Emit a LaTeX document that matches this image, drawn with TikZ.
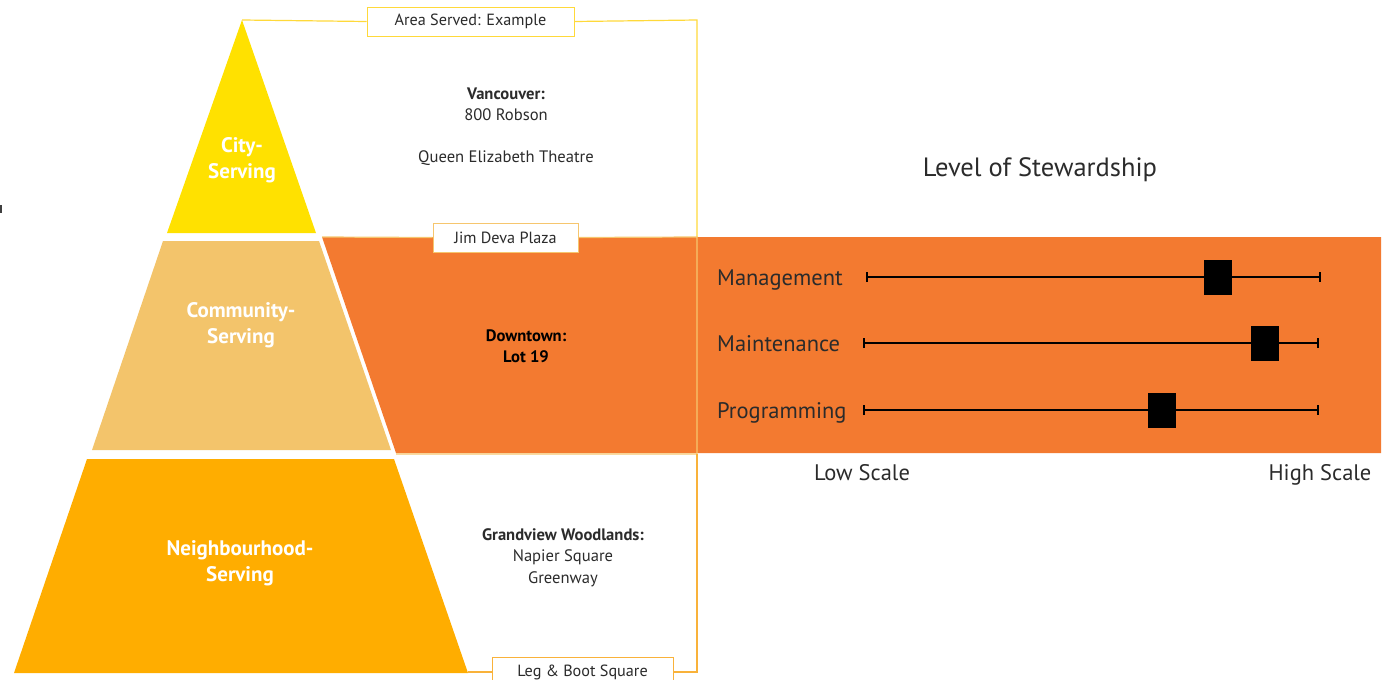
\documentclass[tikz,border=0pt]{standalone}
\usepackage{fontspec}
\setmainfont{PT Sans}
\usetikzlibrary{positioning,arrows.meta}

\definecolor{cityyel}{HTML}{FFE100}
\definecolor{commyel}{HTML}{F3C46B}
\definecolor{neighor}{HTML}{FFAD00}
\definecolor{bandor}{HTML}{F37A30}
\definecolor{cityline}{HTML}{FFD93A}
\definecolor{commline}{HTML}{F6C66E}
\definecolor{neighline}{HTML}{F9B23A}
\definecolor{txtgray}{HTML}{2B2B2B}

\begin{document}
\begin{tikzpicture}[x=1pt,y=-1pt,
    tier/.style={font=\fontsize{21}{26}\selectfont\bfseries,text=white,align=center},
    place/.style={font=\fontsize{16.6}{21.5}\selectfont,text=txtgray,align=center},
    tag/.style={draw=#1,fill=white,line width=1pt,font=\fontsize{16.2}{18}\selectfont,
      text=txtgray,minimum height=29pt,inner sep=0pt},
    rowlabel/.style={font=\fontsize{22.5}{26}\selectfont,text=txtgray},
    bar/.style={line width=1.6pt,{Bar[width=10pt]}-{Bar[width=10pt]}},
    marker/.style={fill=black,minimum width=28pt,minimum height=35pt,inner sep=0pt}]
    \useasboundingbox (0,0) rectangle (1390,680);

    % pyramid tiers and the orange band
    \fill[bandor] (322,237) -- (1381,237) -- (1381,453) -- (396,453) -- cycle;
    \fill[cityyel] (242,20) -- (316,233) -- (167,233) -- cycle;
    \fill[commyel] (163,241) -- (319,241) -- (391,450) -- (92,450) -- cycle;
    \fill[neighor] (87,459) -- (394,459) -- (468,673) -- (14,673) -- cycle;
    \draw[line width=1.5pt,black!75] (0.75,205) -- (0.75,213);

    \node[tier] (city) at (242,160) {City-\\Serving};
    \node[tier] (comm) at (241,325) {Community-\\Serving};
    \node[tier] (neigh) at (240,563) {Neighbourhood-\\Serving};

    % bracket corners
    \coordinate (apex) at (242,20);
    \coordinate (ctop) at (697,20);
    \coordinate (cmid) at (697,237);
    \coordinate (cmidlow) at (697,454);
    \coordinate (cbot) at (697,672);
    \coordinate (bandtop) at (322,237);
    \coordinate (bandlow) at (396,454);
    \coordinate (neighbot) at (468,672);

    \node[tag=cityline,minimum width=207pt] (area) at (470.5,21.5) {Area Served: Example};
    \node[tag=commline,minimum width=145pt] (jim) at (505.5,237.5) {Jim Deva Plaza};
    \node[tag=neighline,minimum width=181pt] (leg) at (582.5,672) {Leg \& Boot Square};

    \draw[cityline,line width=1.2pt] (apex) -- (area.west) (area.east) -- (ctop) -- (cmid);
    \draw[commline,line width=1.2pt] (bandtop) -- (jim.west) (jim.east) -- (cmid) -- (cmidlow) -- (bandlow);
    \draw[neighline,line width=1.2pt] (neighbot) -- (leg.west) (leg.east) -- (cbot) -- (cmidlow);

    % places served
    \node[place] (van) at (506,104.5) {\textbf{Vancouver:}\\800 Robson};
    \node[place] (qet) at (506,158) {Queen Elizabeth Theatre};
    \node[place,font=\fontsize{16.6}{21}\selectfont\bfseries,text=black] (down) at (526,346) {Downtown:\\Lot 19};
    \node[place] (grand) at (563,557.5) {\textbf{Grandview Woodlands:}\\Napier Square\\Greenway};

    % stewardship scale
    \node[font=\fontsize{26.5}{30}\selectfont,text=txtgray] (lvl) at (1040,170) {Level of Stewardship};
    \foreach \nm/\yy/\xs/\xe/\xm [count=\i] in {Management/277/866/1321/1218,
        Maintenance/343/863/1319/1265, Programming/410/863/1319/1162} {
      \node[rowlabel,anchor=base west,inner sep=0pt] (lab\i) at (717,\yy+8) {\nm};
      \coordinate (lo\i) at (\xs,\yy);
      \coordinate (hi\i) at (\xe,\yy);
      \draw[bar] (lo\i) -- (hi\i);
      \node[marker] (mk\i) at (\xm,\yy+0.5) {};
    }
    \node[rowlabel,anchor=base] (low) at (862,480) {Low Scale};
    \node[rowlabel,anchor=base] (high) at (1320,480) {High Scale};
  \end{tikzpicture}
\end{document}
